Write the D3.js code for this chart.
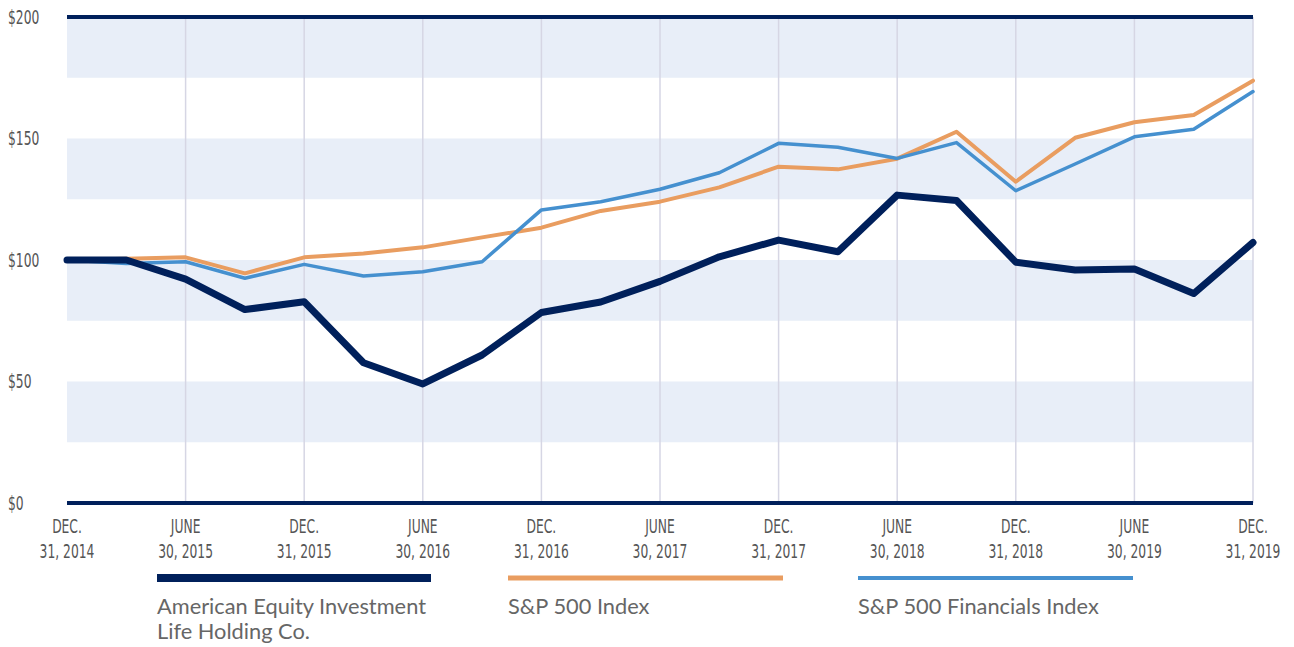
<!DOCTYPE html>
<html>
<head>
<meta charset="utf-8">
<script src="https://cdn.jsdelivr.net/npm/d3@7/dist/d3.min.js"></script>
<style>
  html, body { margin: 0; padding: 0; background: #fff; }
  svg { display: block; }
</style>
</head>
<body>
<svg id="chart" width="1294" height="647"></svg>
<script>
// ---- Data ----
const quarters = ["2014-12-31","2015-03-31","2015-06-30","2015-09-30","2015-12-31","2016-03-31","2016-06-30","2016-09-30","2016-12-31","2017-03-31","2017-06-30","2017-09-30","2017-12-31","2018-03-31","2018-06-30","2018-09-30","2018-12-31","2019-03-31","2019-06-30","2019-09-30","2019-12-31"];
const ael = [100, 100, 92.1, 79.6, 82.8, 57.7, 49.0, 60.9, 78.4, 82.7, 91.2, 101.3, 108.2, 103.4, 126.7, 124.5, 99.1, 95.9, 96.3, 86.2, 107.2];
const sp500 = [100, 100.5, 101.1, 94.5, 101.1, 102.7, 105.2, 109.3, 113.3, 120.2, 124.0, 129.9, 138.4, 137.3, 141.7, 152.8, 132.2, 150.3, 156.7, 159.7, 173.8];
const spFin = [100, 98.6, 99.3, 92.5, 98.2, 93.4, 95.2, 99.3, 120.6, 124.0, 129.1, 135.9, 148.0, 146.4, 141.8, 148.3, 128.5, 139.5, 150.7, 153.8, 169.3];
const tickQuarters = ["2014-12-31","2015-06-30","2015-12-31","2016-06-30","2016-12-31","2017-06-30","2017-12-31","2018-06-30","2018-12-31","2019-06-30","2019-12-31"];
const tickLine1 = ["DEC.","JUNE","DEC.","JUNE","DEC.","JUNE","DEC.","JUNE","DEC.","JUNE","DEC."];
const tickLine2 = ["31, 2014","30, 2015","31, 2015","30, 2016","31, 2016","30, 2017","31, 2017","30, 2018","31, 2018","30, 2019","31, 2019"];
const yTicks = [0, 50, 100, 150, 200];
const bands = [[25, 50], [75, 100], [125, 150], [175, 200]];
const seriesNames = ["American Equity Investment|Life Holding Co.", "S&P 500 Index", "S&P 500 Financials Index"];

// ---- Layout ----
const svg = d3.select("#chart");
const x = d3.scalePoint().domain(quarters).range([67, 1253]);
const y = d3.scaleLinear().domain([0, 200]).range([503, 17]);
const colors = { ael: "#00205b", sp: "#e99d60", fin: "#4590cf" };
const condFont = "'DejaVu Sans Condensed', 'Liberation Sans Narrow', 'Roboto', sans-serif";
const sx = 0.72;

// bands
svg.append("g").selectAll("rect").data(bands).join("rect")
  .attr("x", x.range()[0]).attr("width", x.range()[1] - x.range()[0])
  .attr("y", d => y(d[1])).attr("height", d => y(d[0]) - y(d[1]))
  .attr("fill", "#e8eef8");

// vertical gridlines
svg.append("g").selectAll("line").data(tickQuarters.slice(1)).join("line")
  .attr("x1", d => x(d)).attr("x2", d => x(d))
  .attr("y1", y(200)).attr("y2", y(0))
  .attr("stroke", "#d6d6e4").attr("stroke-width", 1.5);

// top and bottom rules
svg.append("g").selectAll("line").data([0, 200]).join("line")
  .attr("x1", x.range()[0]).attr("x2", x.range()[1])
  .attr("y1", d => y(d)).attr("y2", d => y(d))
  .attr("stroke", colors.ael).attr("stroke-width", 4);

// y labels
svg.append("g").selectAll("text").data(yTicks).join("text")
  .attr("transform", d => `translate(8,${y(d)}) scale(${sx},1)`)
  .attr("dy", "0.36em")
  .attr("font-family", condFont)
  .attr("font-size", 19).attr("fill", "#555")
  .text(d => "$" + d);

// x labels
const xg = svg.append("g").selectAll("g").data(tickQuarters).join("g")
  .attr("transform", d => `translate(${x(d)},0) scale(${sx},1)`);
xg.append("text").attr("text-anchor", "middle").attr("y", 533)
  .attr("font-family", condFont).attr("font-size", 19).attr("fill", "#555")
  .text((d, i) => tickLine1[i]);
xg.append("text").attr("text-anchor", "middle").attr("y", 558)
  .attr("font-family", condFont).attr("font-size", 19).attr("fill", "#555")
  .text((d, i) => tickLine2[i]);

// lines
const line = d3.line().x((d, i) => x(quarters[i])).y(d => y(d));
const series = [
  { data: sp500, color: colors.sp, w: 4 },
  { data: spFin, color: colors.fin, w: 3.5 },
  { data: ael, color: colors.ael, w: 7 }
];
svg.append("g").selectAll("path").data(series).join("path")
  .attr("d", d => line(d.data))
  .attr("fill", "none").attr("stroke", d => d.color).attr("stroke-width", d => d.w)
  .attr("stroke-linejoin", "round").attr("stroke-linecap", "round");

// legend
const legend = [
  { name: seriesNames[0], color: colors.ael, w: 8, x0: 157, x1: 431 },
  { name: seriesNames[1], color: colors.sp, w: 5, x0: 508, x1: 783 },
  { name: seriesNames[2], color: colors.fin, w: 4, x0: 858, x1: 1133 }
];
const lg = svg.append("g").selectAll("g").data(legend).join("g");
lg.append("line")
  .attr("x1", d => d.x0).attr("x2", d => d.x1).attr("y1", 578).attr("y2", 578)
  .attr("stroke", d => d.color).attr("stroke-width", d => d.w);
const lt = lg.append("text")
  .attr("font-family", "Lato, 'Open Sans', sans-serif")
  .attr("font-size", 21.8).attr("fill", "#666");
lt.selectAll("tspan").data(d => d.name.split("|").map(s => ({ s, x: d.x0 }))).join("tspan")
  .attr("x", d => d.x).attr("y", (d, i) => 614 + i * 25)
  .text(d => d.s);
</script>
</body>
</html>
